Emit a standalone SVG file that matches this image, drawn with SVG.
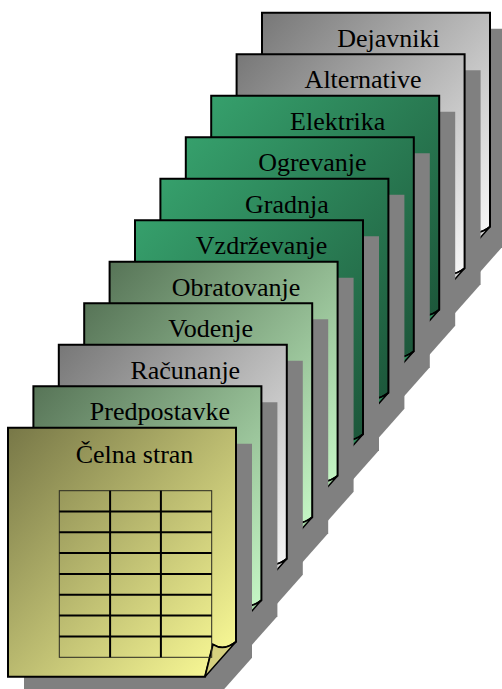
<svg xmlns="http://www.w3.org/2000/svg" xmlns:xlink="http://www.w3.org/1999/xlink" width="502" height="689" viewBox="0 0 502 689">
  <defs>
    <!-- page fills, dark corner at top-left to light corner at bottom-right -->
    <linearGradient id="gGray" x1="0" y1="0" x2="1" y2="1">
      <stop offset="0" stop-color="#777777"/>
      <stop offset="1" stop-color="#ffffff"/>
    </linearGradient>
    <linearGradient id="gDark" x1="0" y1="0" x2="1" y2="1">
      <stop offset="0" stop-color="#36a06c"/>
      <stop offset="1" stop-color="#1b5237"/>
    </linearGradient>
    <linearGradient id="gLight" x1="0" y1="0" x2="1" y2="1">
      <stop offset="0" stop-color="#577457"/>
      <stop offset="1" stop-color="#ccffcc"/>
    </linearGradient>
    <linearGradient id="gYellow" x1="0" y1="0" x2="1" y2="1">
      <stop offset="0" stop-color="#777747"/>
      <stop offset="1" stop-color="#ffff99"/>
    </linearGradient>
    <!-- page outline with a curled bottom-right corner, and its drop shadow -->
    <path id="shadow" d="M16,16 H244 V230 L213,265 H16 Z"/>
    <path id="page" d="M0,0 H228 V214 Q216,224 205,217 L197,249 H0 Z"/>
    <path id="flap" d="M228,214 Q216,224 205,217 L197,249 Z"/>
  </defs>
  <style>
    .shadow { fill: #808080; }
    .page { stroke: #000; stroke-width: 2; }
    .flap { stroke: #000; stroke-width: 1.5; }
    .gray .page { fill: url(#gGray); }
    .gray .flap { fill: #d8d8d8; }
    .dark .page { fill: url(#gDark); }
    .dark .flap { fill: #2f8c5c; }
    .light .page { fill: url(#gLight); }
    .light .flap { fill: #a6d8a6; }
    .yellow .page { fill: url(#gYellow); }
    .yellow .flap { fill: #d6d17f; }
    .label { font-family: 'Liberation Serif', 'Times New Roman', serif; font-size: 26px; fill: #000; text-anchor: middle; }
    .grid-outer { fill: none; stroke: #2a2a20; stroke-width: 1; }
    .grid-line { stroke: #000; stroke-width: 2; }
  </style>

  <!-- pages stacked from back to front -->
  <g id="dejavniki" class="gray" transform="translate(262,12.7)">
    <use xlink:href="#shadow" class="shadow"/>
    <use xlink:href="#page" class="page"/>
    <use xlink:href="#flap" class="flap"/>
    <text class="label" x="126.5" y="34">Dejavniki</text>
  </g>
  <g id="alternative" class="gray" transform="translate(236.6,54.2)">
    <use xlink:href="#shadow" class="shadow"/>
    <use xlink:href="#page" class="page"/>
    <use xlink:href="#flap" class="flap"/>
    <text class="label" x="126.5" y="34">Alternative</text>
  </g>
  <g id="elektrika" class="dark" transform="translate(211.2,95.7)">
    <use xlink:href="#shadow" class="shadow"/>
    <use xlink:href="#page" class="page"/>
    <use xlink:href="#flap" class="flap"/>
    <text class="label" x="126.5" y="34">Elektrika</text>
  </g>
  <g id="ogrevanje" class="dark" transform="translate(185.8,137.2)">
    <use xlink:href="#shadow" class="shadow"/>
    <use xlink:href="#page" class="page"/>
    <use xlink:href="#flap" class="flap"/>
    <text class="label" x="126.5" y="34">Ogrevanje</text>
  </g>
  <g id="gradnja" class="dark" transform="translate(160.4,178.7)">
    <use xlink:href="#shadow" class="shadow"/>
    <use xlink:href="#page" class="page"/>
    <use xlink:href="#flap" class="flap"/>
    <text class="label" x="126.5" y="34">Gradnja</text>
  </g>
  <g id="vzdrzevanje" class="dark" transform="translate(135,220.2)">
    <use xlink:href="#shadow" class="shadow"/>
    <use xlink:href="#page" class="page"/>
    <use xlink:href="#flap" class="flap"/>
    <text class="label" x="126.5" y="34">Vzdrževanje</text>
  </g>
  <g id="obratovanje" class="light" transform="translate(109.6,261.7)">
    <use xlink:href="#shadow" class="shadow"/>
    <use xlink:href="#page" class="page"/>
    <use xlink:href="#flap" class="flap"/>
    <text class="label" x="126.5" y="34">Obratovanje</text>
  </g>
  <g id="vodenje" class="light" transform="translate(84.2,303.2)">
    <use xlink:href="#shadow" class="shadow"/>
    <use xlink:href="#page" class="page"/>
    <use xlink:href="#flap" class="flap"/>
    <text class="label" x="126.5" y="34">Vodenje</text>
  </g>
  <g id="racunanje" class="gray" transform="translate(58.8,344.7)">
    <use xlink:href="#shadow" class="shadow"/>
    <use xlink:href="#page" class="page"/>
    <use xlink:href="#flap" class="flap"/>
    <text class="label" x="126.5" y="34">Računanje</text>
  </g>
  <g id="predpostavke" class="light" transform="translate(33.4,386.2)">
    <use xlink:href="#shadow" class="shadow"/>
    <use xlink:href="#page" class="page"/>
    <use xlink:href="#flap" class="flap"/>
    <text class="label" x="126.5" y="34">Predpostavke</text>
  </g>
  <g id="celna-stran" class="yellow" transform="translate(8,427.7)">
    <use xlink:href="#shadow" class="shadow"/>
    <use xlink:href="#page" class="page"/>
    <use xlink:href="#flap" class="flap"/>
    <text class="label" x="126.5" y="35">Čelna stran</text>
    <!-- 3 x 8 table -->
    <g transform="translate(51.3,63)">
      <rect class="grid-outer" x="0" y="0" width="152.4" height="166.6"/>
      <line class="grid-line" x1="50.8" y1="0" x2="50.8" y2="166.6"/>
      <line class="grid-line" x1="101.6" y1="0" x2="101.6" y2="166.6"/>
      <line class="grid-line" x1="0" y1="20.8" x2="152.4" y2="20.8"/>
      <line class="grid-line" x1="0" y1="41.6" x2="152.4" y2="41.6"/>
      <line class="grid-line" x1="0" y1="62.4" x2="152.4" y2="62.4"/>
      <line class="grid-line" x1="0" y1="83.3" x2="152.4" y2="83.3"/>
      <line class="grid-line" x1="0" y1="104.1" x2="152.4" y2="104.1"/>
      <line class="grid-line" x1="0" y1="124.9" x2="152.4" y2="124.9"/>
      <line class="grid-line" x1="0" y1="145.7" x2="152.4" y2="145.7"/>
    </g>
  </g>
</svg>
